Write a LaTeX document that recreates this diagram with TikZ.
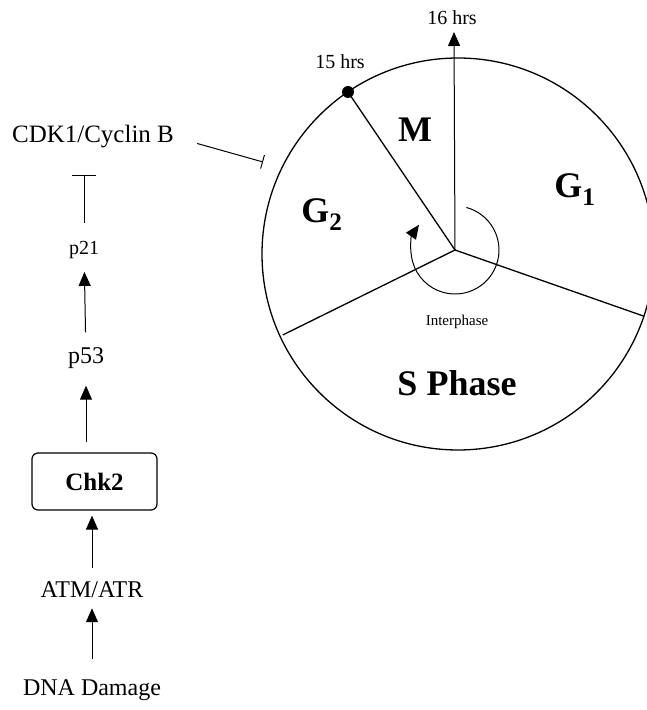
\documentclass[tikz,border=0pt]{standalone}
\usepackage{fontspec}
\setmainfont{Liberation Serif}
\usetikzlibrary{arrows.meta,positioning,calc}

\begin{document}
\begin{tikzpicture}[
  x=1pt,y=1pt,
  lbl/.style={inner sep=0pt,font=\fontsize{24}{28}\selectfont},
  small/.style={inner sep=0pt,font=\fontsize{20}{24}\selectfont},
  tiny/.style={inner sep=0pt,font=\fontsize{15}{18}\selectfont},
  phase/.style={inner sep=0pt,font=\fontsize{36}{40}\selectfont\bfseries},
  kinase/.style={draw,rounded corners=6pt,line width=1.2pt,minimum width=125pt,minimum height=57pt,inner sep=0pt,font=\fontsize{25}{28}\selectfont\bfseries},
  arrow/.style={-{Triangle[length=14pt,width=12pt]},line width=1pt},
  inhibit/.style={-{Bar[width=#1]},line width=1pt},
  wheel/.style={line width=1.3pt}
]
\useasboundingbox (0,0) rectangle (646,710);

% the cell cycle wheel
\coordinate (cc) at (458,456);
\coordinate (hub) at (455,460);
\draw[wheel] (cc) circle (196pt);
\coordinate (t16) at (454,678);
\coordinate (d15) at (348,618);
\coordinate (sl) at ($(cc)+(204.8:193pt)$);
\coordinate (sr) at ($(cc)+(-18.5:196pt)$);
\draw[wheel] (hub) -- (d15);
\draw[wheel] (hub) -- (sl);
\draw[wheel] (hub) -- (sr);
\draw[arrow] (hub) -- (t16);
\fill (d15) circle (6pt);
\draw[-{Triangle[length=14pt,width=12pt]},line width=1pt] ($(hub)+(75:44pt)$) arc[start angle=75,end angle=-215,radius=44pt];

\node[small] (hrs16) at (452,692) {16 hrs};
\node[small] (hrs15) at (340,648) {15 hrs};
\node[phase] (m) at (415,580) {M};
\node[phase] (gtwo) at (322,495) {G\textsubscript{2}};
\node[phase] (gone) at (575,520) {G\textsubscript{1}};
\node[tiny] (inter) at (457,388) {Interphase};
\node[phase] (sphase) at (457,327) {S Phase};

% signalling column
\node[lbl,font=\fontsize{25}{28}\selectfont] (cdk) at (93,573) {CDK1/Cyclin B};
\node[small] (ptwentyone) at (84,460) {p21};
\node[lbl] (pfiftythree) at (86,352) {p53};
\node[kinase] (chk) at (94.5,228.5) {Chk2};
\node[lbl] (atm) at (92,120) {ATM/ATR};
\node[lbl] (dna) at (92,20) {DNA Damage};
\coordinate (hit) at (263,548);

\draw[arrow,shorten <=20pt,shorten >=10pt] (dna) -- (atm);
\draw[arrow,shorten <=14pt,shorten >=5pt] (atm) -- (chk.south -| atm);
\draw[arrow,shorten <=10pt,shorten >=17pt] (chk.north -| pfiftythree) -- (pfiftythree);
\draw[arrow,shorten <=15pt,shorten >=13pt] (pfiftythree) -- (ptwentyone);
\draw[inhibit=24pt,shorten <=18pt,shorten >=38pt] (ptwentyone) -- (ptwentyone |- cdk);
\draw[inhibit=14pt,shorten <=24pt] (cdk.east) -- (hit);
\end{tikzpicture}
\end{document}
